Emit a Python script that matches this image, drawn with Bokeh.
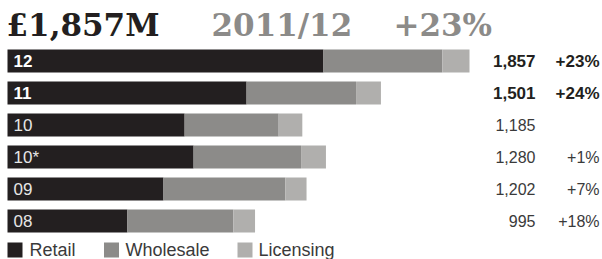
from bokeh.plotting import figure
from bokeh.models import Range1d, ColumnDataSource
from bokeh.core.properties import value
from bokeh.embed import file_html
from bokeh.resources import INLINE

# ---- data (£M) ----
years = ["12", "11", "10", "10*", "09", "08"]
retail = [1270, 961, 712, 748, 627, 482]
wholesale = [478, 440, 378, 432, 490, 426]
licensing = [109, 100, 95, 100, 85, 87]
totals = ["1,857", "1,501", "1,185", "1,280", "1,202", "995"]
growth = ["+23%", "+24%", "", "+1%", "+7%", "+18%"]
bold_rows = [True, True, False, False, False, False]
series = ["Retail", "Wholesale", "Licensing"]
colors = ["#231f20", "#8c8b89", "#b0afad"]

title_main = "£1,857M"
title_year = "2011/12"
title_growth = "+23%"

W, H = 602, 259
U = 1857 / 462.0          # £M per pixel
x0 = -7 * U               # value 0 at pixel x=7
x1 = x0 + W * U
ROW = 32.0
yc0 = 60.5                # pixel y of first row center
y_top = -yc0 / ROW
y_bot = (H - yc0) / ROW

def px(x):
    return x0 + x * U

def py(y):
    return (y - yc0) / ROW

p = figure(width=W, height=H, x_range=Range1d(x0, x1), y_range=Range1d(y_bot, y_top),
           output_backend="svg", toolbar_location=None, min_border=0)
p.axis.visible = False
p.grid.visible = False
p.outline_line_color = None
p.background_fill_color = "white"

rows = list(range(len(years)))
w_end = [r + w for r, w in zip(retail, wholesale)]
l_end = [e + l for e, l in zip(w_end, licensing)]
src = ColumnDataSource(dict(y=rows, r0=[0] * len(rows), r1=retail, w1=w_end, l1=l_end))
bh = 23 / ROW
p.hbar(y="y", left="r0", right="r1", height=bh, source=src, fill_color=colors[0], line_color=None)
p.hbar(y="y", left="r1", right="w1", height=bh, source=src, fill_color=colors[1], line_color=None)
p.hbar(y="y", left="w1", right="l1", height=bh, source=src, fill_color=colors[2], line_color=None)

for i, (yr, b) in enumerate(zip(years, bold_rows)):
    p.text(x=[px(13)], y=[i], text=[yr], text_font=value("Liberation Sans"),
           text_font_size="17px",
           text_font_style="bold" if b else "normal",
           text_color="white" if b else "#e6e6e6",
           text_baseline="middle", text_align="left")
    p.text(x=[px(535)], y=[i], text=[totals[i]], text_font=value("Liberation Sans"),
           text_font_size="17px" if b else "16px",
           text_font_style="bold" if b else "normal",
           text_color="#231f20" if b else "#3a3a3a",
           text_baseline="middle", text_align="right")
    if growth[i]:
        p.text(x=[px(599)], y=[i], text=[growth[i]], text_font=value("Liberation Sans"),
               text_font_size="17px" if b else "16px",
               text_font_style="bold" if b else "normal",
               text_color="#231f20" if b else "#3a3a3a",
               text_baseline="middle", text_align="right")

# title
tb = py(24.5)
p.text(x=[px(6)], y=[tb], text=[title_main], text_font=value("DejaVu Serif"),
       text_font_size="31px", text_font_style="bold", text_color="#231f20",
       text_baseline="middle", text_align="left")
p.text(x=[px(211)], y=[tb], text=[title_year], text_font=value("DejaVu Serif"),
       text_font_size="31px", text_font_style="bold", text_color="#8c8b89",
       text_baseline="middle", text_align="left")
p.text(x=[px(393)], y=[tb], text=[title_growth], text_font=value("DejaVu Serif"),
       text_font_size="31px", text_font_style="bold", text_color="#8c8b89",
       text_baseline="middle", text_align="left")

# legend
ly = py(249.5)
sq_x = [14.5, 111, 244.5]
tx_x = [29, 125, 258]
for name, c, sx, tx in zip(series, colors, sq_x, tx_x):
    p.scatter(x=[px(sx)], y=[ly], marker="square", size=15, fill_color=c, line_color=None)
    p.text(x=[px(tx)], y=[ly], text=[name], text_font=value("Liberation Sans"),
           text_font_size="18px", text_color="#3a3a3a",
           text_baseline="middle", text_align="left")

open("out.html", "w").write(file_html(p, INLINE))
